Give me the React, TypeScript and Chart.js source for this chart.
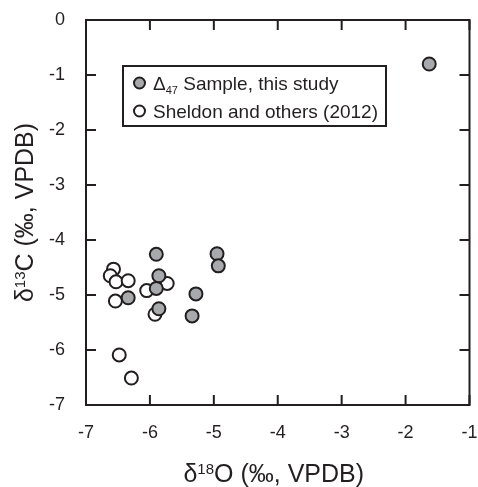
import { useEffect, useRef } from 'react';
import { Chart, registerables } from 'chart.js';

Chart.register(...registerables);

const FONT = '"Liberation Sans", Arial, Helvetica, sans-serif';
const INK = '#231f20';
const GRAY = '#a7a9ac';

const xTicks = [-7, -6, -5, -4, -3, -2, -1];
const yTicks = [0, -1, -2, -3, -4, -5, -6, -7];

const sampleX = [-5.9, -4.95, -4.93, -5.86, -5.9, -6.34, -5.28, -5.86, -5.34, -1.63];
const sampleY = [-4.26, -4.25, -4.47, -4.65, -4.88, -5.05, -4.98, -5.25, -5.38, -0.8];

const sheldonX = [-6.57, -6.62, -6.53, -6.34, -6.54, -6.05, -5.73, -5.92, -6.48, -6.29];
const sheldonY = [-4.53, -4.65, -4.76, -4.74, -5.11, -4.92, -4.79, -5.35, -6.09, -6.51];

const legendSample = ['Δ', '47', ' Sample, this study'];
const legendSheldon = 'Sheldon and others (2012)';
const xTitle = ['δ', '18', 'O (‰, VPDB)'];
const yTitle = ['δ', '13', 'C (‰, VPDB)'];

type Part = { text: string; size: number; dy: number };

function drawParts(ctx: CanvasRenderingContext2D, parts: Part[], x: number, y: number, center: boolean) {
  let total = 0;
  for (const p of parts) {
    ctx.font = `${p.size}px ${FONT}`;
    total += ctx.measureText(p.text).width;
  }
  let cx = center ? x - total / 2 : x;
  ctx.textAlign = 'left';
  ctx.textBaseline = 'alphabetic';
  for (const p of parts) {
    ctx.font = `${p.size}px ${FONT}`;
    ctx.fillText(p.text, cx, y + p.dy);
    cx += ctx.measureText(p.text).width;
  }
}

const framePlugin = {
  id: 'framePlugin',
  afterDraw(chart: any) {
    const { ctx, chartArea, scales } = chart;
    const { left, right, top, bottom } = chartArea;
    ctx.save();
    ctx.strokeStyle = INK;
    ctx.lineWidth = 2;
    ctx.strokeRect(left, top, right - left, bottom - top);
    const tl = 10;
    ctx.beginPath();
    for (const v of xTicks) {
      const px = scales.x.getPixelForValue(v);
      ctx.moveTo(px, bottom);
      ctx.lineTo(px, bottom - tl);
      ctx.moveTo(px, top);
      ctx.lineTo(px, top + tl);
    }
    for (const v of yTicks) {
      const py = scales.y.getPixelForValue(v);
      ctx.moveTo(left, py);
      ctx.lineTo(left + tl, py);
      ctx.moveTo(right, py);
      ctx.lineTo(right - tl, py);
    }
    ctx.stroke();

    // legend
    const bx = 123, by = 66, bw = 263, bh = 60;
    ctx.lineWidth = 2;
    ctx.fillStyle = '#ffffff';
    ctx.fillRect(bx, by, bw, bh);
    ctx.strokeRect(bx, by, bw, bh);
    const rows = [
      { y: 83, fill: GRAY },
      { y: 111, fill: '#ffffff' },
    ];
    for (const r of rows) {
      ctx.beginPath();
      ctx.arc(139.5, r.y, 5.5, 0, Math.PI * 2);
      ctx.fillStyle = r.fill;
      ctx.fill();
      ctx.lineWidth = 2;
      ctx.stroke();
    }
    ctx.fillStyle = INK;
    drawParts(ctx, [
      { text: legendSample[0], size: 19, dy: 0 },
      { text: legendSample[1], size: 11, dy: 4 },
      { text: legendSample[2], size: 19, dy: 0 },
    ], 153, 90, false);
    drawParts(ctx, [{ text: legendSheldon, size: 19, dy: 0 }], 153, 118, false);

    // x title
    const cxMid = (left + right) / 2 - 4;
    drawParts(ctx, [
      { text: xTitle[0], size: 25, dy: 0 },
      { text: xTitle[1], size: 15, dy: -8 },
      { text: xTitle[2], size: 25, dy: 0 },
    ], cxMid, 482, true);

    // y title
    ctx.save();
    ctx.translate(33, (top + bottom) / 2);
    ctx.rotate(-Math.PI / 2);
    drawParts(ctx, [
      { text: yTitle[0], size: 25, dy: 0 },
      { text: yTitle[1], size: 15, dy: -8 },
      { text: yTitle[2], size: 25, dy: 0 },
    ], 0, 0, true);
    ctx.restore();
    ctx.restore();
  },
};

export default function App() {
  const ref = useRef<HTMLCanvasElement>(null);
  useEffect(() => {
    document.body.style.margin = '0';
    const canvas = ref.current;
    if (!canvas) return;
    const chart = new Chart(canvas, {
      type: 'scatter',
      data: {
        datasets: [
          {
            label: 'Δ47 Sample, this study',
            data: sampleX.map((x, i) => ({ x, y: sampleY[i] })),
            backgroundColor: GRAY,
            borderColor: INK,
            borderWidth: 2,
            pointRadius: 6.5,
          },
          {
            label: legendSheldon,
            data: sheldonX.map((x, i) => ({ x, y: sheldonY[i] })),
            backgroundColor: '#ffffff',
            borderColor: INK,
            borderWidth: 2,
            pointRadius: 6.5,
          },
        ],
      },
      options: {
        responsive: false,
        maintainAspectRatio: false,
        animation: false,
        layout: { padding: { left: 0, right: 7, top: 20, bottom: 0 } },
        plugins: { legend: { display: false }, tooltip: { enabled: false } },
        scales: {
          x: {
            type: 'linear',
            min: -7,
            max: -1,
            afterFit: (s: any) => {
              s.height = 82;
              s.paddingLeft = 0;
              s.paddingRight = 0;
            },
            afterBuildTicks: (s: any) => { s.ticks = xTicks.map((v) => ({ value: v })); },
            grid: { display: false },
            border: { display: false },
            ticks: {
              font: { family: FONT, size: 18 },
              color: INK,
              padding: 9,
              maxRotation: 0,
            },
          },
          y: {
            type: 'linear',
            min: -7,
            max: 0,
            afterFit: (s: any) => {
              s.width = 86;
              s.paddingTop = 0;
              s.paddingBottom = 0;
            },
            afterBuildTicks: (s: any) => { s.ticks = yTicks.map((v) => ({ value: v })); },
            grid: { display: false },
            border: { display: false },
            ticks: {
              font: { family: FONT, size: 18 },
              color: INK,
              padding: 13,
            },
          },
        },
      },
      plugins: [framePlugin],
    });
    return () => chart.destroy();
  }, []);
  return (
    <div style={{ width: 478, height: 487 }}>
      <canvas ref={ref} width={478} height={487} style={{ display: 'block' }} />
    </div>
  );
}
